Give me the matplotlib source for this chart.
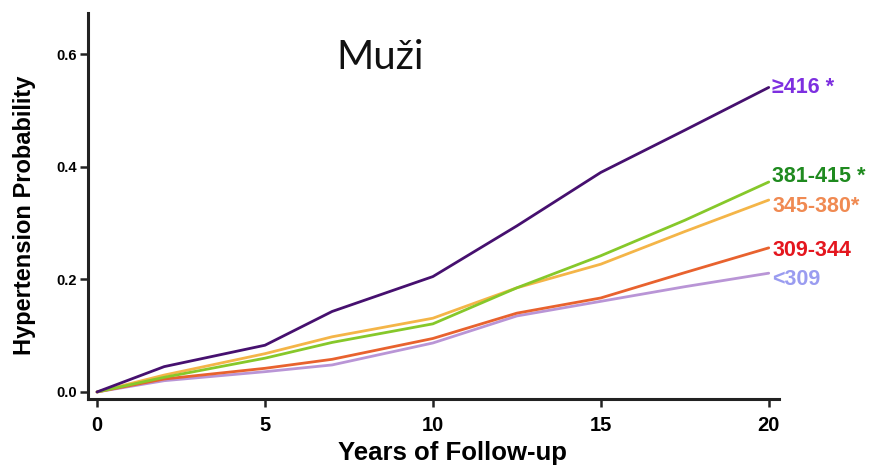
import matplotlib
matplotlib.use("Agg")
import matplotlib.pyplot as plt

# Follow-up years and cumulative probability per group
years = [0, 2, 5, 7, 10, 12.5, 15, 17.5, 20]
p_416 = [0, 0.045, 0.083, 0.143, 0.205, 0.295, 0.390, 0.465, 0.541]
p_381 = [0, 0.026, 0.060, 0.088, 0.121, 0.185, 0.242, 0.305, 0.373]
p_345 = [0, 0.030, 0.068, 0.098, 0.131, 0.185, 0.227, 0.285, 0.341]
p_309 = [0, 0.023, 0.042, 0.058, 0.095, 0.140, 0.167, 0.212, 0.256]
p_low = [0, 0.020, 0.036, 0.048, 0.087, 0.135, 0.161, 0.187, 0.211]

group_labels = ["\u2265416 *", "381-415 *", "345-380*", "309-344", "<309"]
label_offsets = [0.0, 0.010, -0.011, -0.004, -0.011]

series = [p_416, p_381, p_345, p_309, p_low]
line_colors = ["#46106f", "#86c82a", "#f4b548", "#e8622e", "#b995d6"]
text_colors = ["#7d2fe0", "#1f8a1f", "#f08a52", "#e4161e", "#9a9cf0"]

fig = plt.figure(figsize=(8.86, 4.66), dpi=100)
ax = fig.add_axes([0.0993, 0.1438, 0.7797, 0.828])

# draw the lower groups first so the top curve sits above them
for vals, lc in reversed(list(zip(series, line_colors))):
    ax.plot(years, vals, color=lc, lw=2.0, solid_capstyle="round")

for vals, lab, tc, off in zip(series, group_labels, text_colors, label_offsets):
    ax.text(20.1, vals[-1] + off, lab, color=tc, fontsize=15.5,
            fontweight="bold", va="center", ha="left",
            family=["Liberation Sans", "DejaVu Sans"])

ax.set_xlim(-0.27, 20.3)
ax.set_ylim(-0.0125, 0.673)
ax.set_xticks([0, 5, 10, 15, 20])
ax.set_yticks([0.0, 0.2, 0.4, 0.6])
ax.set_yticklabels(["0.0", "0.2", "0.4", "0.6"])

for s in ["top", "right"]:
    ax.spines[s].set_visible(False)
for s in ["left", "bottom"]:
    ax.spines[s].set_linewidth(2.2)
    ax.spines[s].set_color("#222222")

ax.tick_params(axis="both", direction="out", length=6, width=1.8, color="#222222")
ax.tick_params(axis="y", labelsize=10.5, pad=2)
ax.tick_params(axis="x", labelsize=14.5, pad=6)
for t in ax.get_yticklabels():
    t.set_fontweight("bold")
    t.set_family("Liberation Sans")
for t in ax.get_xticklabels():
    t.set_fontweight("bold")
    t.set_family("Liberation Sans")

ax.set_xlabel("Years of Follow-up", fontsize=18.5, fontweight="bold",
              family="Liberation Sans")
ax.xaxis.set_label_coords(0.528, -0.11)
ax.set_ylabel("Hypertension Probability", fontsize=17, fontweight="bold",
              family="Liberation Sans")
ax.yaxis.set_label_coords(-0.075, 0.477)

fig.text(0.429, 0.853, "Mu\u017ei", fontsize=29, family="Lato",
         ha="center", va="baseline", color="#111111")

fig.savefig("out.png", dpi=100)
